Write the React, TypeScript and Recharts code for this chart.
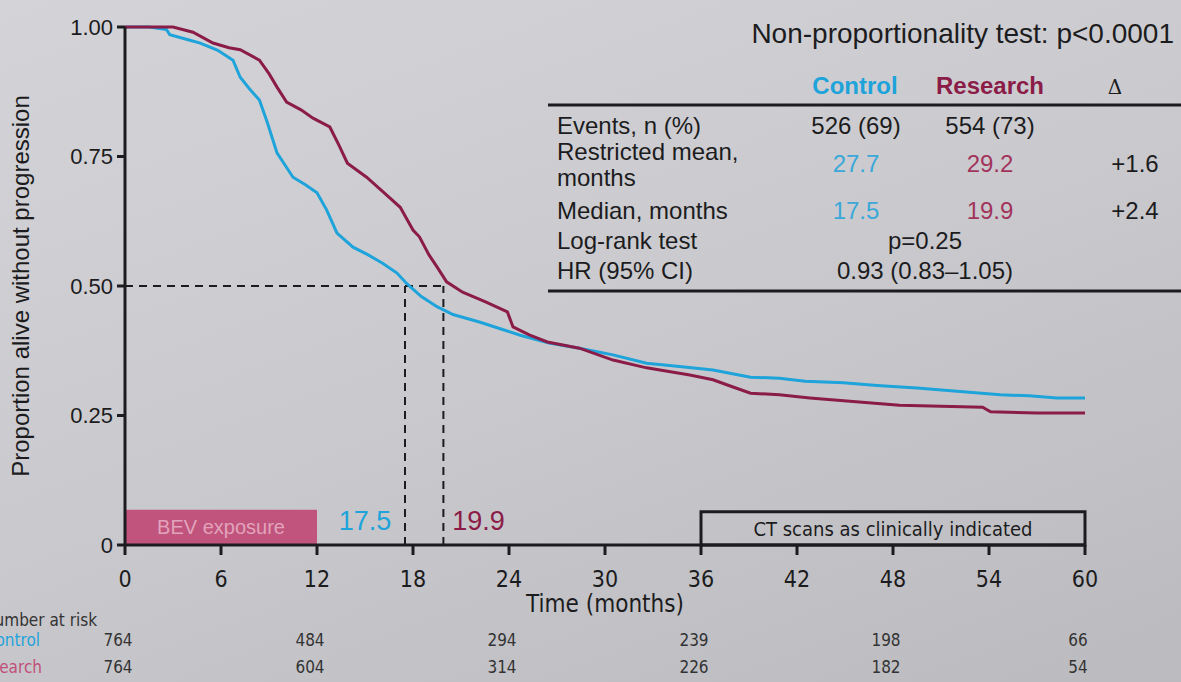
import React from 'react';
import { LineChart, Line, XAxis, YAxis, ReferenceLine, ReferenceArea, ReferenceDot } from 'recharts';

// survival curves: [month, proportion]
const controlCurve = [
    [0, 1], [1.5, 1], [2.6, 0.995], [2.8, 0.985], [4, 0.975], [4.7, 0.969], [5.8, 0.955], [6.75, 0.936],
    [7.2, 0.903], [7.8, 0.88], [8.4, 0.859], [8.9, 0.815], [9.5, 0.757], [10.5, 0.71], [11.3, 0.695],
    [12, 0.68], [12.6, 0.647], [13.25, 0.602], [14.25, 0.575], [15.2, 0.56], [16.1, 0.544], [17, 0.525],
    [17.6, 0.505], [18.5, 0.48], [19.5, 0.46], [20.5, 0.445], [22.2, 0.43], [23.5, 0.417], [24.7, 0.405],
    [26.5, 0.39], [28.4, 0.38], [30.5, 0.367], [32.6, 0.351], [34.5, 0.345], [36.75, 0.338], [39.1, 0.324],
    [40.9, 0.322], [42.5, 0.316], [44.9, 0.313], [47, 0.308], [49.5, 0.303], [52, 0.297], [54.7, 0.29],
    [56.5, 0.288], [58.25, 0.284], [60, 0.284],
]
const researchCurve = [
    [0, 1], [3, 1], [4.25, 0.99], [5.5, 0.969], [6.5, 0.96], [7.2, 0.956], [8.4, 0.936], [9, 0.91],
    [9.5, 0.884], [10.1, 0.855], [11, 0.84], [11.75, 0.824], [12.8, 0.807], [13.4, 0.77], [13.9, 0.737],
    [15.1, 0.71], [16.2, 0.68], [17.2, 0.652], [18, 0.608], [18.4, 0.595], [19, 0.56], [19.5, 0.537],
    [20.1, 0.508], [21.1, 0.488], [22.5, 0.47], [23.9, 0.45], [24.25, 0.421], [25.3, 0.405], [26.4, 0.392],
    [28.4, 0.38], [30.5, 0.357], [32.6, 0.342], [35.3, 0.328], [36.75, 0.319], [38, 0.305], [39.1, 0.293],
    [40.9, 0.29], [42.8, 0.284], [45.5, 0.277], [48.4, 0.27], [51, 0.268], [53.6, 0.266], [54.1, 0.257],
    [57, 0.255], [60, 0.255],
]

const monthTicks = [0, 6, 12, 18, 24, 30, 36, 42, 48, 54, 60]
const proportionTicks = [0, 0.25, 0.5, 0.75, 1]
const riskMonths = [0, 12, 24, 36, 48, 60]
const controlAtRisk = [764, 484, 294, 239, 198, 66]
const researchAtRisk = [764, 604, 314, 226, 182, 54]
const medianMonths = [17.5, 19.9]
const bevExposure = [0, 12]
const ctScans = [36, 60]

const blue = "#1ea3da"
const maroon = "#8a1c47"
const ink = "#1c1c1e"
const font = "'Liberation Sans', Arial, sans-serif"
const narrow = "'Liberation Sans Narrow', 'DejaVu Sans Condensed', 'Liberation Sans', sans-serif"

const toRows = (curve: number[][]) => curve.map(([month, p]) => ({ month, p }))

// month label plus the number-at-risk rows underneath
const MonthTick = ({ x = 0, y = 0, payload }: any) => {
    const month = payload?.value
    const i = riskMonths.indexOf(month)
    return (
        <g fontFamily={narrow}>
            <text x={x} y={y + 28} textAnchor="middle" fontSize={23} fill={ink}>{month}</text>
            {i === 0 && (
                <g fontSize={17}>
                    <text x={x - 28} y={y + 67} textAnchor="end" fill="#333">Number at risk</text>
                    <text x={x - 85} y={y + 87} textAnchor="end" fill={blue}>Control</text>
                    <text x={x - 83} y={y + 114} textAnchor="end" fill="#c0507a">Research</text>
                </g>
            )}
            {i >= 0 && (
                <g fontSize={17} fill="#333">
                    <text x={x - 7} y={y + 87} textAnchor="middle">{controlAtRisk[i]}</text>
                    <text x={x - 7} y={y + 114} textAnchor="middle">{researchAtRisk[i]}</text>
                </g>
            )}
        </g>
    )
}

function StatsTable() {
    const row = { fontSize: 24, fill: ink }
    const val = { fontSize: 24, textAnchor: 'middle' as const }
    return (
        <svg width={1181} height={682} style={{ position: 'absolute', left: 0, top: 0, pointerEvents: 'none' }} fontFamily={font}>
            <text x={1174} y={43} textAnchor="end" fontSize={28} fill={ink}>Non-proportionality test: p&lt;0.0001</text>
            <text x={855} y={94} textAnchor="middle" fontSize={24} fontWeight="bold" fill={blue}>Control</text>
            <text x={990} y={94} textAnchor="middle" fontSize={24} fontWeight="bold" fill={maroon}>Research</text>
            <text x={1115} y={94} textAnchor="middle" fontSize={20} fill={ink} fontFamily="'DejaVu Serif', serif">Δ</text>
            <line x1={548} x2={1181} y1={105} y2={105} stroke={ink} strokeWidth={3} />
            <text x={557} y={134} {...row}>Events, n (%)</text>
            <text x={856} y={134} {...val} fill={ink}>526 (69)</text>
            <text x={990} y={134} {...val} fill={ink}>554 (73)</text>
            <text x={557} y={160} {...row}>Restricted mean,</text>
            <text x={557} y={186} {...row}>months</text>
            <text x={856} y={172} {...val} fill="#3aa8d8">27.7</text>
            <text x={990} y={172} {...val} fill="#a2345c">29.2</text>
            <text x={1135} y={172} {...val} fill={ink}>+1.6</text>
            <text x={557} y={219} {...row}>Median, months</text>
            <text x={856} y={219} {...val} fill="#3aa8d8">17.5</text>
            <text x={990} y={219} {...val} fill="#a2345c">19.9</text>
            <text x={1135} y={219} {...val} fill={ink}>+2.4</text>
            <text x={557} y={249} {...row}>Log-rank test</text>
            <text x={925} y={249} {...val} fill={ink}>p=0.25</text>
            <text x={557} y={279} {...row}>HR (95% CI)</text>
            <text x={925} y={279} {...val} fill={ink}>0.93 (0.83–1.05)</text>
            <line x1={548} x2={1181} y1={291} y2={291} stroke={ink} strokeWidth={3} />
        </svg>
    )
}

export default function App() {
    return (
        <div style={{
            position: 'absolute', left: 0, top: 0, width: 1181, height: 682, overflow: 'hidden',
            background: 'linear-gradient(160deg, #d4d4d8 0%, #cbcbcf 45%, #bbbbbf 100%)',
        }}>
            <LineChart width={1181} height={682} margin={{ top: 27, right: 96, bottom: 0, left: 0 }} style={{ fontFamily: font }}>
                <XAxis
                    type="number"
                    dataKey="month"
                    domain={[0, 60]}
                    ticks={monthTicks}
                    height={137}
                    stroke={ink}
                    strokeWidth={3}
                    tickSize={10}
                    tickMargin={4}
                    tick={<MonthTick />}
                    allowDataOverflow
                    label={{ value: 'Time (months)', position: 'insideTop', offset: 50, fontSize: 24, fill: ink, fontFamily: narrow }}
                />
                <YAxis
                    type="number"
                    domain={[0, 1]}
                    ticks={proportionTicks}
                    width={125}
                    stroke={ink}
                    strokeWidth={3}
                    tickSize={8}
                    tickMargin={4}
                    tick={{ fontSize: 22, fill: ink, fontFamily: font }}
                    tickFormatter={(v: number) => (v === 0 ? '0' : v.toFixed(2))}
                    label={{ value: 'Proportion alive without progression', angle: -90, position: 'insideLeft', offset: 20, fontSize: 24, fill: ink, style: { textAnchor: 'middle' } }}
                />
                <ReferenceArea
                    x1={bevExposure[0]} x2={bevExposure[1]} y1={0} y2={0.068}
                    fill="#c0547d" fillOpacity={1} stroke="none"
                    label={{ value: 'BEV exposure', fill: '#e2a3bb', fontSize: 20, fontFamily: font }}
                />
                <ReferenceArea
                    x1={ctScans[0]} x2={ctScans[1]} y1={0} y2={0.064}
                    fill="none" stroke={ink} strokeWidth={3}
                    label={{ value: 'CT scans as clinically indicated', fill: ink, fontSize: 20, fontFamily: narrow }}
                />
                <ReferenceLine segment={[{ x: 0, y: 0.5 }, { x: medianMonths[1], y: 0.5 }]} stroke={ink} strokeWidth={2} strokeDasharray="8 6" />
                <ReferenceLine segment={[{ x: medianMonths[0], y: 0 }, { x: medianMonths[0], y: 0.5 }]} stroke={ink} strokeWidth={2} strokeDasharray="8 6" />
                <ReferenceLine segment={[{ x: medianMonths[1], y: 0 }, { x: medianMonths[1], y: 0.5 }]} stroke={ink} strokeWidth={2} strokeDasharray="8 6" />
                <ReferenceDot x={15} y={0.048} r={0} label={{ value: String(medianMonths[0]), fill: blue, fontSize: 27, fontFamily: font }} />
                <ReferenceDot x={22.1} y={0.048} r={0} label={{ value: String(medianMonths[1]), fill: maroon, fontSize: 27, fontFamily: font }} />
                <Line data={toRows(controlCurve)} dataKey="p" type="linear" stroke={blue} strokeWidth={3} dot={false} isAnimationActive={false} />
                <Line data={toRows(researchCurve)} dataKey="p" type="linear" stroke={maroon} strokeWidth={3} dot={false} isAnimationActive={false} />
            </LineChart>
            <StatsTable />
        </div>
    );
}
